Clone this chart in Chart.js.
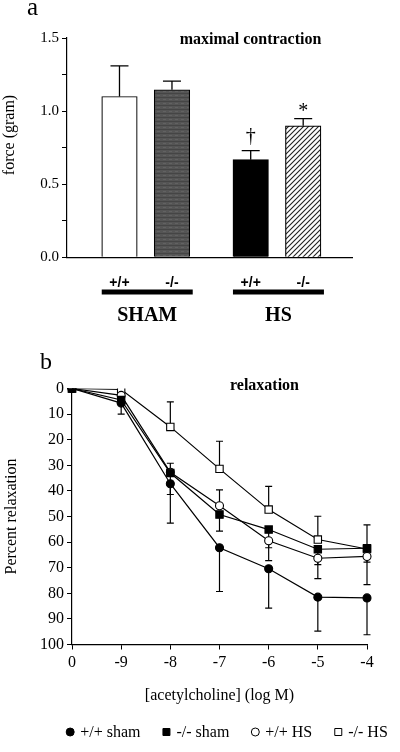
<!DOCTYPE html>
<html>
<head>
<meta charset="utf-8">
<script src="https://cdn.jsdelivr.net/npm/chart.js@4.4.1/dist/chart.umd.min.js"></script>
<style>
html,body{margin:0;padding:0;background:#fff;}
#wrap{position:relative;width:400px;height:752px;overflow:hidden;background:#fff;}
canvas{position:absolute;left:0;}
#forceChart{top:0;}
#relaxChart{top:340px;}
</style>
</head>
<body>
<div id="wrap">
  <canvas id="forceChart" width="400" height="340"></canvas>
  <canvas id="relaxChart" width="400" height="412"></canvas>
</div>
<script>
/* ---------- panel a : maximal contraction ---------- */
const barGenotypes = ["+/+", "-/-", "+/+", "-/-"];
const barPositions = [1, 2, 3.5, 4.5];
const forceMean    = [1.10, 1.146, 0.668, 0.899];
const forceErrTop  = [1.31, 1.205, 0.73, 0.949];
const sigMarks     = ["", "", "\u2020", "*"];
const groupNames   = ["SHAM", "HS"];
const groupOfBar   = [0, 0, 1, 1];
const forceTicks   = [0, 0.5, 1.0, 1.5];

/* ---------- panel b : relaxation ---------- */
const achLabels = ["0", "-9", "-8", "-7", "-6", "-5", "-4"];
const wtSham    = [0, 5.7, 37.2, 62.2, 70.4, 81.5, 81.8];
const wtShamErr = [null, 10, 52.6, 79.3, 85.8, 94.8, 96.2];
const koSham    = [0, 4.5, 33, 49.2, 55.1, 62.8, 62.4];
const koShamErr = [null, null, 41.4, 55.7, 62.2, 68.8, 67.8];
const wtHS      = [0, 2.7, 32.7, 45.8, 59.5, 66.3, 65.6];
const wtHSErr   = [null, null, 29.2, 39.6, 67.2, 74.3, 76.6];
const koHS      = [0, 0.4, 15, 31.4, 47.3, 59, 62.7];
const koHSErr   = [null, null, 5.2, 20.6, 38.2, 49.9, 53.3];

const SERIF = "'Liberation Serif', 'Times New Roman', serif";
const SANS  = "'Liberation Sans', Arial, sans-serif";

/* fill patterns for the -/- bars */
function greyPattern(ctx){
  const c = document.createElement("canvas");
  c.width = 6; c.height = 4;
  const g = c.getContext("2d");
  g.fillStyle = "#555"; g.fillRect(0,0,6,4);
  g.fillStyle = "#454545"; g.fillRect(0,1,6,1);
  g.fillStyle = "#626262"; g.fillRect(1,3,3,1);
  return ctx.createPattern(c, "repeat");
}
function hatchPattern(ctx){
  const c = document.createElement("canvas");
  c.width = 5; c.height = 5;
  const g = c.getContext("2d");
  g.fillStyle = "#fff"; g.fillRect(0,0,5,5);
  g.strokeStyle = "#222"; g.lineWidth = 1.1;
  g.beginPath();
  g.moveTo(0,5); g.lineTo(5,0);
  g.moveTo(-1,1); g.lineTo(1,-1);
  g.moveTo(4,6); g.lineTo(6,4);
  g.stroke();
  return ctx.createPattern(c, "repeat");
}

/* error bars, significance marks, group bars and texts for panel a */
const barExtras = {
  id: "barExtras",
  afterDatasetsDraw(chart){
    const ctx = chart.ctx, y = chart.scales.y;
    const meta = chart.getDatasetMeta(0);
    ctx.save();
    ctx.strokeStyle = "#000";
    ctx.lineWidth = 1.3;
    meta.data.forEach((bar, i) => {
      const yt = y.getPixelForValue(forceErrTop[i]);
      ctx.beginPath();
      ctx.moveTo(bar.x, bar.y); ctx.lineTo(bar.x, yt);
      ctx.moveTo(bar.x - 9, yt); ctx.lineTo(bar.x + 9, yt);
      ctx.stroke();
      if(sigMarks[i]){
        ctx.fillStyle = "#000";
        ctx.font = "20px " + SERIF;
        ctx.textAlign = "center";
        ctx.textBaseline = "middle";
        ctx.fillText(sigMarks[i], bar.x, yt - (sigMarks[i] === "*" ? 7 : 14));
      }
    });
    ctx.restore();
  },
  afterDraw(chart){
    const ctx = chart.ctx;
    const meta = chart.getDatasetMeta(0);
    ctx.save();
    ctx.fillStyle = "#000";
    // group underline + name
    groupNames.forEach((name, g) => {
      let l = Infinity, r = -Infinity;
      meta.data.forEach((bar, i) => {
        if(groupOfBar[i] !== g) return;
        l = Math.min(l, bar.x - bar.width / 2);
        r = Math.max(r, bar.x + bar.width / 2);
      });
      r += 3;
      ctx.fillRect(l, 289.5, r - l, 5);
      ctx.font = "bold 20px " + SERIF;
      ctx.textAlign = "center";
      ctx.textBaseline = "middle";
      ctx.fillText(name, (l + r) / 2, 316);
    });
    // panel letter and title
    ctx.textAlign = "left";
    ctx.textBaseline = "alphabetic";
    ctx.font = "25px " + SERIF;
    ctx.fillText("a", 27, 15);
    ctx.font = "bold 16px " + SERIF;
    ctx.textAlign = "center";
    ctx.textBaseline = "middle";
    ctx.fillText("maximal contraction", 250.5, 40);
    // y title
    ctx.translate(10, 135);
    ctx.rotate(-Math.PI / 2);
    ctx.font = "16px " + SERIF;
    ctx.fillText("force (gram)", 0, 0);
    ctx.restore();
  }
};

const forceCanvas = document.getElementById("forceChart");
const fctx = forceCanvas.getContext("2d");

new Chart(forceCanvas, {
  type: "bar",
  data: {
    datasets: [{
      data: barPositions.map((x, i) => ({x: x, y: forceMean[i]})),
      backgroundColor: ["#fff", greyPattern(fctx), "#000", hatchPattern(fctx)],
      borderColor: "#000",
      borderWidth: 1.2,
      barThickness: 35.5
    }]
  },
  options: {
    responsive: false,
    animation: false,
    devicePixelRatio: 1,
    layout: {padding: {top: 38, left: 0, right: 48, bottom: 0}},
    plugins: {legend: {display: false}, tooltip: {enabled: false}},
    scales: {
      x: {
        type: "linear", min: 0, max: 5.43, offset: false,
        afterBuildTicks: s => { s.ticks = barPositions.map(v => ({value: v})); },
        afterFit: s => { s.height = 82.7; },
        grid: {display: false, offset: false},
        border: {color: "#000", width: 1.2},
        ticks: {
          autoSkip: false, maxRotation: 0, padding: 9, color: "#000",
          font: {family: SANS, weight: "bold", size: 14},
          callback: (v, i) => barGenotypes[i]
        }
      },
      y: {
        min: 0, max: 1.5,
        afterFit: s => { s.width = 67; },
        grid: {drawOnChartArea: false, color: "#000", tickLength: 5, lineWidth: 1},
        border: {color: "#000", width: 1.2},
        ticks: {
          stepSize: 0.25, padding: 3, color: "#000",
          font: {family: SERIF, size: 15},
          callback: v => forceTicks.some(t => Math.abs(t - v) < 1e-6) ? v.toFixed(1) : ""
        }
      }
    }
  },
  plugins: [barExtras]
});

/* ---------- panel b ---------- */
const relaxSeries = [
  {label: "+/+ sham", data: wtSham, err: wtShamErr, shape: "circle", fill: "#000"},
  {label: "-/- sham", data: koSham, err: koShamErr, shape: "rect",   fill: "#000"},
  {label: "+/+ HS",   data: wtHS,   err: wtHSErr,   shape: "circle", fill: "#fff"},
  {label: "-/- HS",   data: koHS,   err: koHSErr,   shape: "rect",   fill: "#fff"}
];

const relaxExtras = {
  id: "relaxExtras",
  beforeDatasetsDraw(chart){
    const ctx = chart.ctx, y = chart.scales.y;
    ctx.save();
    ctx.strokeStyle = "#000";
    ctx.lineWidth = 1.2;
    chart.data.datasets.forEach((ds, d) => {
      const meta = chart.getDatasetMeta(d);
      ds.errTo.forEach((e, i) => {
        if(e === null) return;
        const p = meta.data[i];
        const ye = y.getPixelForValue(e);
        ctx.beginPath();
        ctx.moveTo(p.x, p.y); ctx.lineTo(p.x, ye);
        ctx.moveTo(p.x - 3.5, ye); ctx.lineTo(p.x + 3.5, ye);
        ctx.stroke();
      });
    });
    ctx.restore();
  },
  afterDraw(chart){
    const ctx = chart.ctx;
    ctx.save();
    ctx.fillStyle = "#000";
    ctx.font = "24px " + SERIF;
    ctx.textAlign = "left";
    ctx.textBaseline = "alphabetic";
    ctx.fillText("b", 40, 29);
    ctx.font = "bold 16px " + SERIF;
    ctx.textAlign = "center";
    ctx.textBaseline = "middle";
    ctx.fillText("relaxation", 264.5, 45.7);

    // legend along the bottom
    ctx.font = "16px " + SERIF;
    const gapMark = 6, gapItem = 22, mark = 8;
    const widths = chart.data.datasets.map(ds => mark + gapMark + ctx.measureText(ds.label).width);
    const total = widths.reduce((a, b) => a + b, 0) + gapItem * (widths.length - 1);
    let x = 227 - total / 2;
    const ly = 392;
    ctx.textAlign = "left";
    chart.data.datasets.forEach((ds, d) => {
      const cx = x + mark / 2;
      ctx.fillStyle = ds.pointBackgroundColor;
      ctx.strokeStyle = "#000";
      ctx.lineWidth = 1;
      ctx.beginPath();
      if(ds.pointStyle === "circle") ctx.arc(cx, ly, mark / 2, 0, Math.PI * 2);
      else ctx.rect(cx - mark / 2 + 0.5, ly - mark / 2 + 0.5, mark - 1, mark - 1);
      ctx.fill(); ctx.stroke();
      ctx.fillStyle = "#000";
      ctx.fillText(ds.label, x + mark + gapMark, ly + 1);
      x += widths[d] + gapItem;
    });
    ctx.restore();
  }
};

new Chart(document.getElementById("relaxChart"), {
  type: "line",
  data: {
    labels: achLabels,
    datasets: relaxSeries.map(s => ({
      label: s.label,
      data: s.data,
      errTo: s.err,
      borderColor: "#000",
      borderWidth: 1.2,
      tension: 0,
      fill: false,
      pointStyle: s.shape,
      pointRadius: s.shape === "rect" ? 5.2 : 4,
      pointBackgroundColor: s.fill,
      pointBorderColor: "#000",
      pointBorderWidth: 1.1
    }))
  },
  options: {
    responsive: false,
    animation: false,
    devicePixelRatio: 1,
    layout: {padding: {top: 48.5, left: 0, right: 33, bottom: 0}},
    plugins: {legend: {display: false}, tooltip: {enabled: false}},
    scales: {
      x: {
        offset: false,
        afterFit: s => { s.height = 107.5; },
        grid: {drawOnChartArea: false, color: "#000", tickLength: 5, offset: false},
        border: {color: "#000", width: 1.2},
        ticks: {autoSkip: false, maxRotation: 0, padding: 4, color: "#000", font: {family: SERIF, size: 16}},
        title: {display: true, text: "[acetylcholine] (log M)", color: "#000",
                font: {family: SERIF, size: 16}, padding: {top: 0, bottom: 47}}
      },
      y: {
        reverse: true, min: 0, max: 100,
        afterFit: s => { s.width = 72; },
        grid: {drawOnChartArea: false, color: "#000", tickLength: 5},
        border: {color: "#000", width: 1.2},
        ticks: {stepSize: 10, padding: 3, color: "#000", font: {family: SERIF, size: 16}},
        title: {display: true, text: "Percent relaxation", color: "#000",
                font: {family: SERIF, size: 16}, padding: {top: 2, bottom: 0}}
      }
    }
  },
  plugins: [relaxExtras]
});
</script>
</body>
</html>
